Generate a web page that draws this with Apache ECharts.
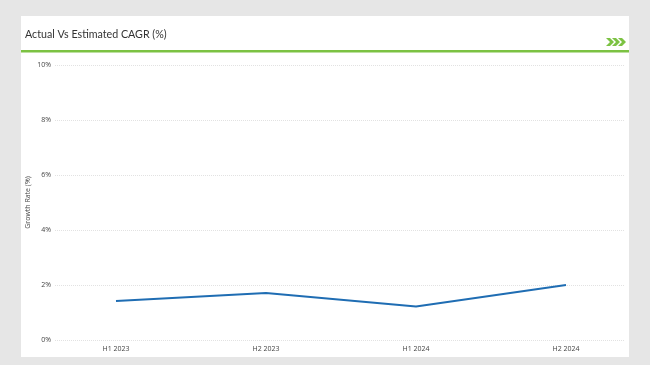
<!DOCTYPE html>
<html><head><meta charset="utf-8">
<script src="https://cdn.jsdelivr.net/npm/echarts@6/dist/echarts.min.js"></script>
<style>html,body{margin:0;padding:0;background:#e6e6e6;}#c{width:650px;height:365px;}</style>
</head><body><div id="c"></div>
<script>
var categories = ['H1 2023', 'H2 2023', 'H1 2024', 'H2 2024'];
var growthValues = [1.42, 1.71, 1.22, 2.0];
var yTicks = [0, 2, 4, 6, 8, 10];

var chart = echarts.init(document.getElementById('c'), null, {renderer: 'canvas'});
var green = '#7cc243';
function chevron(x) {
  return {type: 'polygon', shape: {points: [[x,38],[x+4,38],[x+8,42],[x+4,46],[x,46],[x+4,42]]}, style: {fill: green}, z: 10};
}
chart.setOption({
  animation: false,
  backgroundColor: 'transparent',
  graphic: [
    {type: 'rect', shape: {x: 21, y: 16, width: 608, height: 341}, style: {fill: '#ffffff'}, z: -10},
    {type: 'rect', shape: {x: 21, y: 50, width: 608, height: 2.5}, style: {fill: green}, z: 10},
    {type: 'text', left: 25, top: 29, style: {text: 'Actual Vs Estimated CAGR (%)', font: '10.7px Lato, sans-serif', fill: '#333'}, z: 10},
    chevron(606), chevron(612), chevron(618)
  ],
  grid: [
    {left: 55, right: 25, top: 65, bottom: 25},
    {left: 41, right: 9, top: 65, bottom: 25}
  ],
  xAxis: [
    {gridIndex: 0, type: 'category', data: categories, show: false},
    {gridIndex: 1, type: 'category', data: categories, boundaryGap: true,
     axisLine: {show: false}, axisTick: {show: false},
     axisLabel: {fontSize: 7, color: '#444', margin: 5, fontFamily: '"Open Sans", sans-serif'}}
  ],
  yAxis: [
    {gridIndex: 0, type: 'value', min: 0, max: 10, interval: 2,
     name: 'Growth Rate (%)', nameLocation: 'middle', nameGap: 24, nameRotate: 90, nameMoveOverlap: false,
     nameTextStyle: {fontSize: 7, color: '#444', fontFamily: '"Open Sans", sans-serif'},
     axisLine: {show: false}, axisTick: {show: false},
     axisLabel: {fontSize: 7, color: '#444', margin: 4, fontFamily: '"Open Sans", sans-serif',
       formatter: function (v) { return yTicks.indexOf(v) >= 0 ? v + '%' : ''; }},
     splitLine: {show: true, lineStyle: {color: '#e2e2e2', type: 'dotted', width: 1}}},
    {gridIndex: 1, type: 'value', min: 0, max: 10, show: false, splitLine: {show: false}}
  ],
  series: [{
    type: 'line', xAxisIndex: 1, yAxisIndex: 1, data: growthValues,
    symbol: 'none', lineStyle: {color: '#1f6db3', width: 2}, itemStyle: {color: '#1f6db3'}
  }]
});
</script></body></html>
